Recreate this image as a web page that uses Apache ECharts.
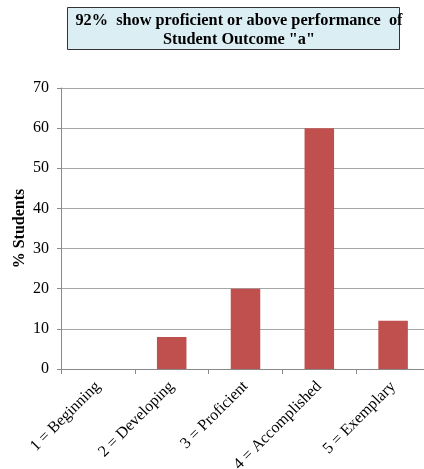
<!DOCTYPE html>
<html><head><meta charset="utf-8">
<script src="https://cdn.jsdelivr.net/npm/echarts@6/dist/echarts.min.js"></script>
<style>html,body{margin:0;padding:0;background:#fff}#c{width:424px;height:469px}</style>
</head><body><div id="c"></div>
<script>
var categories = ["1 = Beginning", "2 = Developing", "3 = Proficient", "4 = Accomplished", "5 = Exemplary"];
var values = [0, 8, 20, 60, 12];
var titleLines = ["92%  show proficient or above performance  of", "Student Outcome \"a\""];
var yName = "% Students";

var chart = echarts.init(document.getElementById('c'), null, {renderer: 'canvas'});
var serif = '"Liberation Serif", "Times New Roman", serif';
chart.setOption({
  animation: false,
  backgroundColor: '#fff',
  title: {
    text: titleLines.join('\n'),
    left: 234, top: 6, textAlign: 'center',
    textStyle: {fontFamily: serif, fontWeight: 'bold', fontSize: 16.3, lineHeight: 19, color: '#000'}
  },
  graphic: [{
    type: 'rect', z: -1,
    shape: {x: 67.5, y: 7.5, width: 332, height: 42},
    style: {fill: '#dbeef4', stroke: '#333', lineWidth: 1}
  }],
  grid: {left: 61, right: -6, top: 88, bottom: 100, containLabel: false, outerBoundsMode: 'none'},
  xAxis: {
    type: 'category', data: categories,
    boundaryGap: true,
    axisLine: {lineStyle: {color: '#898989', width: 1}},
    axisTick: {show: true, alignWithLabel: false, length: 5, lineStyle: {color: '#898989'}},
    axisLabel: {rotate: 45, margin: 15, fontFamily: serif, fontSize: 16, color: '#000', interval: 0}
  },
  yAxis: {
    type: 'value', min: 0, max: 70, interval: 10,
    name: yName, nameLocation: 'middle', nameGap: 33, nameRotate: 90, nameMoveOverlap: false,
    nameTextStyle: {fontFamily: serif, fontWeight: 'bold', fontSize: 16, color: '#000'},
    axisLine: {show: true, lineStyle: {color: '#898989', width: 1}},
    axisTick: {show: true, length: 4, lineStyle: {color: '#898989'}},
    axisLabel: {margin: 12, fontFamily: serif, fontSize: 16, color: '#000'},
    splitLine: {show: true, lineStyle: {color: '#a6a6a6', width: 1}}
  },
  series: [{
    type: 'bar', data: values, barWidth: '40%',
    itemStyle: {color: '#c0504d'}
  }]
});
</script></body></html>
